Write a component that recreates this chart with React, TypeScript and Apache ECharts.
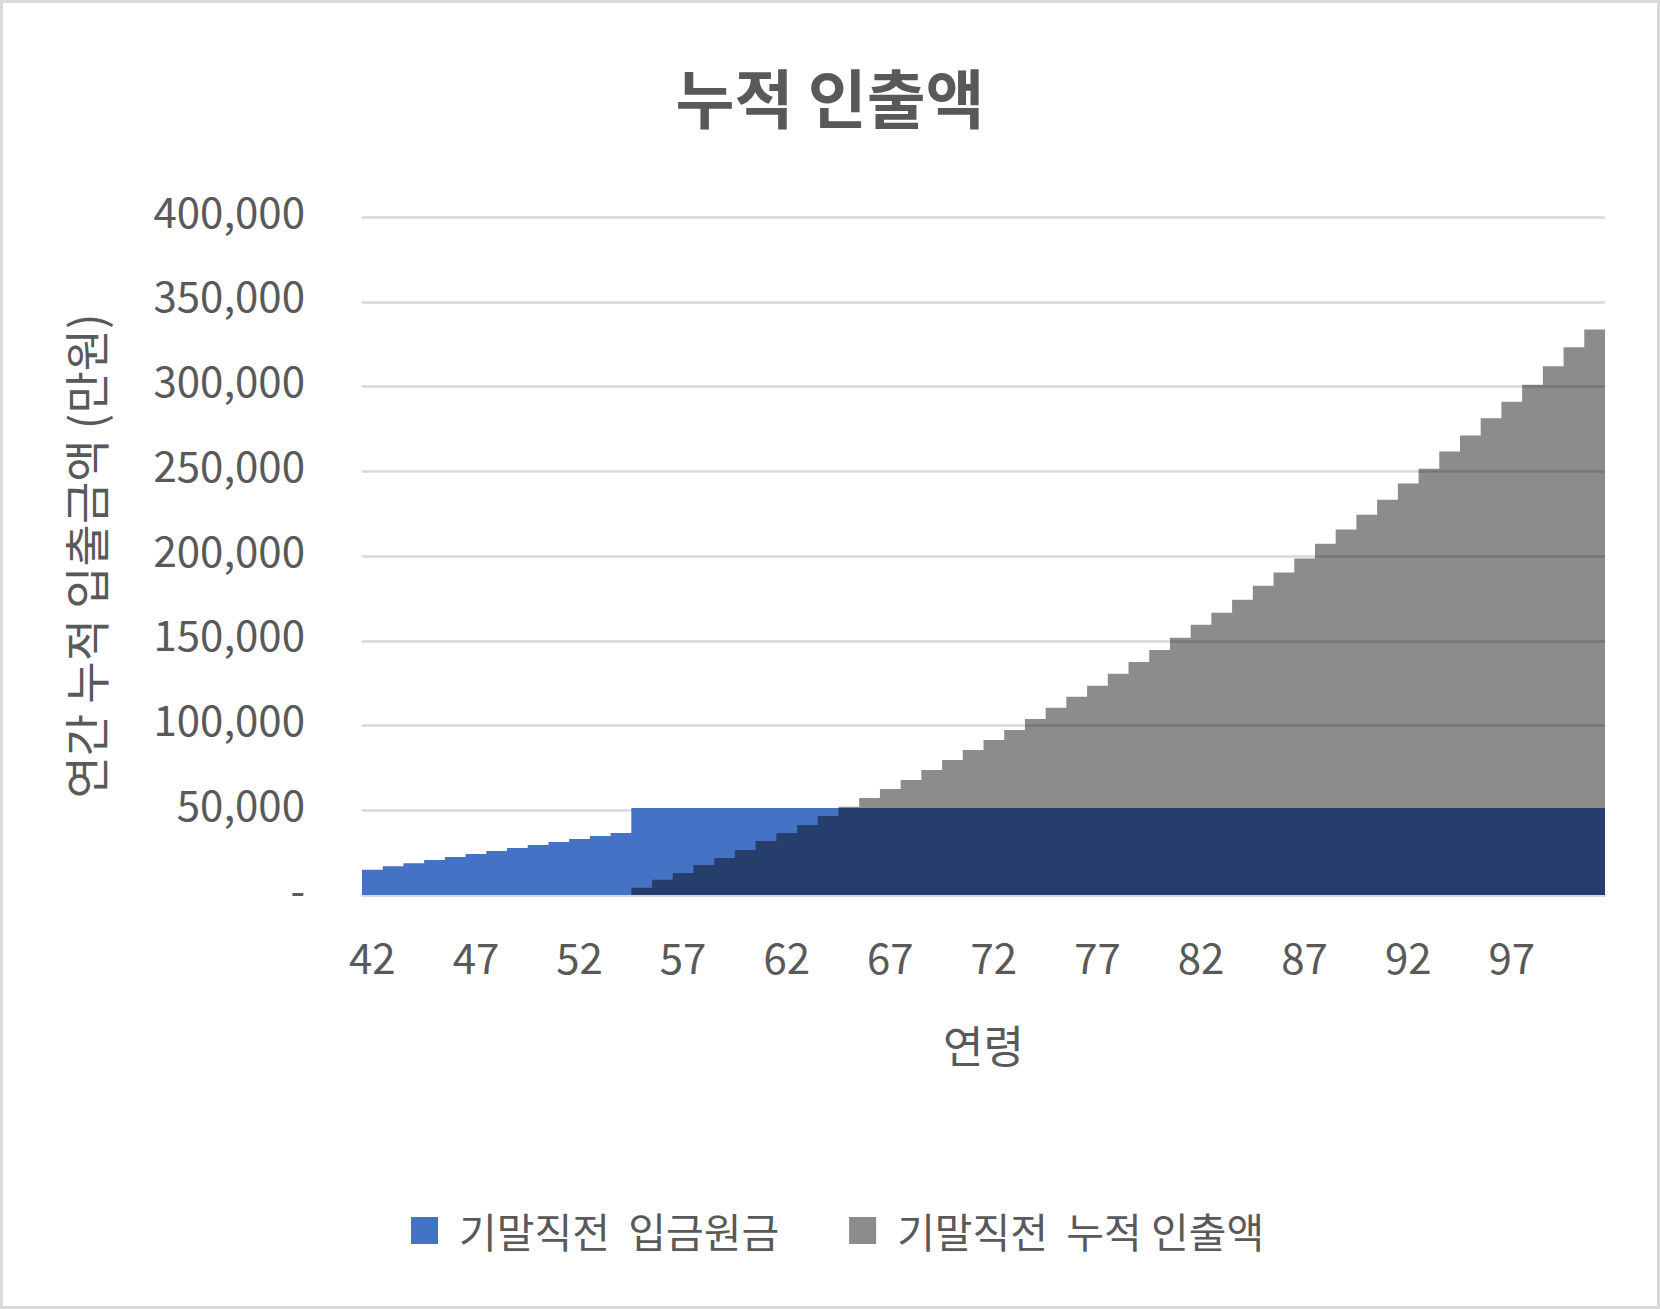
import * as echarts from 'echarts';
import { useEffect, useRef } from 'react';
import type { ECharts } from 'echarts';

const ages = [
  42, 43, 44, 45, 46, 47, 48, 49, 50, 51, 52, 53, 54, 55, 56, 57, 58, 59, 60, 61,
  62, 63, 64, 65, 66, 67, 68, 69, 70, 71, 72, 73, 74, 75, 76, 77, 78, 79, 80, 81,
  82, 83, 84, 85, 86, 87, 88, 89, 90, 91, 92, 93, 94, 95, 96, 97, 98, 99, 100, 101,
];

// 기말직전 입금원금
const deposits = [
  14900, 17000, 18800, 20600, 22400, 24200, 26000, 27700, 29500, 31300, 33100, 34800, 36600,
  51300, 51300, 51300, 51300, 51300, 51300, 51300, 51300, 51300, 51300, 51300, 51300, 51300,
  51300, 51300, 51300, 51300, 51300, 51300, 51300, 51300, 51300, 51300, 51300, 51300, 51300,
  51300, 51300, 51300, 51300, 51300, 51300, 51300, 51300, 51300, 51300, 51300, 51300, 51300,
  51300, 51300, 51300, 51300, 51300, 51300, 51300, 51300,
];

// 기말직전 누적 인출액
const withdrawals = [
  0, 0, 0, 0, 0, 0, 0, 0, 0, 0, 0, 0, 0,
  4300, 9000, 13000, 17700, 21800, 26600, 31900, 36600, 41300, 46600,
  52000, 57300, 62600, 67900, 73800, 79700, 85600, 91500, 97400, 103900,
  110400, 116900, 123400, 130500, 137500, 144600, 151700, 159400, 166500, 174200,
  182500, 190300, 198500, 207200, 215600, 224300, 233200, 242800, 251500, 261700,
  271100, 281200, 291000, 301100, 311900, 323100, 333700,
];

const seriesNames = ['기말직전  입금원금', '기말직전  누적 인출액'];
const seriesColors = ['#4472C4', 'rgba(0,0,0,0.45)'];

const font = "'Noto Sans CJK KR', 'Noto Sans', sans-serif";
const textColor = '#595959';

// one seamless stepped polygon per series (bars with no gaps, without hairline seams)
const stepArea = (values: number[], color: string) => (params: any, api: any) => {
  if (params.dataIndex !== 0) return null;
  const bw = api.size([1, 0])[0];
  const base = api.coord([0, 0])[1];
  const pts: number[][] = [];
  values.forEach((v, i) => {
    const [cx, y] = api.coord([i, v]);
    pts.push([cx - bw / 2, y], [cx + bw / 2, y]);
  });
  pts.push([pts[pts.length - 1][0], base], [pts[0][0], base]);
  return { type: 'polygon', shape: { points: pts }, style: { fill: color } };
};

const App = () => {
  const chartRef = useRef<HTMLDivElement>(null);

  useEffect(() => {
    let chart: ECharts | null = null;
    if (chartRef.current !== null) {
      chart = echarts.init(chartRef.current, undefined, { renderer: 'svg' });
    }

    const options = {
      animation: false,
      textStyle: { fontFamily: font },
      title: {
        text: '누적 인출액',
        left: 'center',
        top: 58,
        textStyle: { fontFamily: font, fontSize: 64, fontWeight: 'bold', color: textColor },
      },
      graphic: [
        {
          type: 'rect',
          shape: { x: 1.5, y: 1.5, width: 1657, height: 1306 },
          style: { fill: 'none', stroke: '#D9D9D9', lineWidth: 3 },
        },
      ],
      legend: {
        data: seriesNames,
        left: 406,
        top: 1205,
        itemWidth: 27,
        itemHeight: 27,
        itemGap: 70,
        icon: 'rect',
        textStyle: {
          fontFamily: font,
          fontSize: 41,
          color: textColor,
          padding: [0, 0, 0, 16],
        },
      },
      grid: { left: 362, right: 55, top: 217, bottom: 414 },
      xAxis: {
        type: 'category',
        data: ages,
        name: '연령',
        nameLocation: 'middle',
        nameGap: 127,
        nameTextStyle: { fontFamily: font, fontSize: 44, color: textColor },
        axisLine: { lineStyle: { color: '#D9D9D9', width: 2.5 } },
        axisTick: { show: false },
        axisLabel: {
          interval: 4,
          margin: 39,
          fontFamily: font,
          fontSize: 42,
          color: textColor,
        },
      },
      yAxis: {
        type: 'value',
        min: 0,
        max: 400000,
        interval: 50000,
        name: '연간 누적 입출금액 (만원)',
        nameLocation: 'middle',
        nameGap: 255,
        nameTextStyle: { fontFamily: font, fontSize: 46, color: textColor },
        axisLine: { show: false },
        axisTick: { show: false },
        splitLine: { lineStyle: { color: '#D9D9D9', width: 2.5 } },
        axisLabel: {
          margin: 57,
          fontFamily: font,
          fontSize: 42,
          color: textColor,
          verticalAlign: 'bottom',
          lineHeight: 16,
          formatter: (v: number) => (v === 0 ? '-' : v.toLocaleString('en-US')),
        },
      },
      series: [
        {
          name: seriesNames[0],
          type: 'custom',
          data: deposits.map((v, i) => [i, v]),
          encode: { x: 0, y: 1 },
          itemStyle: { color: seriesColors[0] },
          renderItem: stepArea(deposits, seriesColors[0]),
        },
        {
          name: seriesNames[1],
          type: 'custom',
          data: withdrawals.map((v, i) => [i, v]),
          encode: { x: 0, y: 1 },
          itemStyle: { color: seriesColors[1] },
          renderItem: stepArea(withdrawals, seriesColors[1]),
        },
      ],
    };

    chart?.setOption(options);

    return () => {
      chart?.dispose();
      chart = null;
    };
  }, []);

  return (
    <div
      ref={chartRef}
      style={{ position: 'absolute', left: 0, top: 0, width: 1660, height: 1309, background: '#fff' }}
    ></div>
  );
};

export default App;
